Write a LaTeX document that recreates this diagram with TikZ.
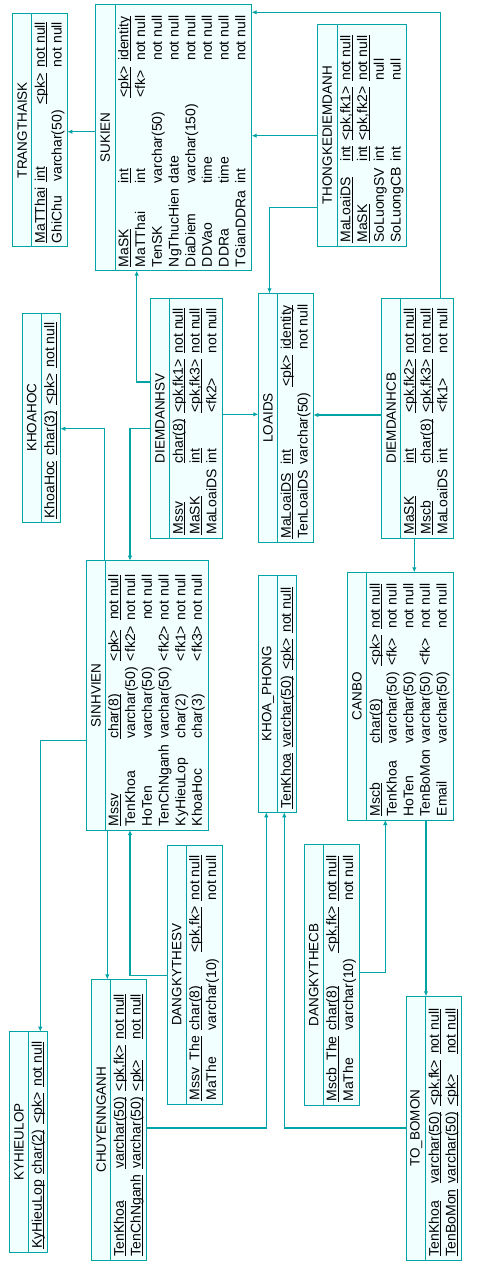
\documentclass[tikz,border=0pt]{standalone}
\usepackage{fontspec}
\setmainfont{Liberation Sans}
\usetikzlibrary{arrows.meta}
\definecolor{erline}{RGB}{0,164,164}
\definecolor{erfill}{RGB}{242,255,255}
\newcommand\kul[1]{\setbox0\hbox{#1}\rlap{\rule[-2.3pt]{\wd0}{0.9pt}}\box0}
\tikzset{
 tblbox/.style={draw=erline, fill=erfill, line width=1pt, inner sep=0pt, outer sep=0pt},
 tblline/.style={draw=erline, line width=1pt},
 ttl/.style={inner sep=0pt, font=\fontsize{13.5}{16}\selectfont},
 rowsnode/.style={inner sep=0pt, font=\fontsize{14}{16.7}\selectfont},
 ref/.style={draw=erline, line width=1.1pt, -{Latex[length=5pt,width=4.5pt]}},
}
% #1 id, #2 x0, #3 y0, #4 x1, #5 y1, #6 separator x, #7 title, #8 rows
\newcommand\ertable[8]{%
  \node[tblbox, anchor=north west, minimum width={(#4-#2)*1pt}, minimum height={(#5-#3)*1pt}] (#1) at (#2,#3) {};
  \draw[tblline] (#6,0 |- #1.north) -- (#6,0 |- #1.south);
  \node[ttl, rotate=90] (#1-t) at ({(#2+#6)/2},{(#3+#5)/2}) {#7};
  \node[rowsnode, rotate=90, anchor=north west] (#1-r) at ({#6+1.3},{#5-3.5})
    {\begin{tabular}{@{}l@{\hspace{6pt}}l@{\hspace{6pt}}l@{\hspace{6pt}}l@{}}#8\end{tabular}};
}
\begin{document}
\begin{tikzpicture}[x=1pt,y=-1pt]
\useasboundingbox (0,0) rectangle (477,1264);

\ertable{trangthaisk}{12.7}{13.3}{67.3}{246.7}{31.7}{TRANGTHAISK}{%
\kul{MaTThai} & \kul{int} & \kul{<pk>} & \kul{not null}\\
GhiChu & varchar(50) & & not null}

\ertable{sukien}{95.3}{4.3}{251.7}{270.7}{115.3}{SUKIEN}{%
\kul{MaSK} & \kul{int} & \kul{<pk>} & \kul{identity}\\
MaTThai & int & <fk> & not null\\
TenSK & varchar(50) & & not null\\
NgThucHien & date & & not null\\
DiaDiem & varchar(150) & & not null\\
DDVao & time & & not null\\
DDRa & time & & not null\\
TGianDDRa & int & & not null}

\ertable{thongke}{317.3}{24.3}{406.3}{246.3}{337.3}{THONGKEDIEMDANH}{%
\kul{MaLoaiDS} & \kul{int} & \kul{<pk,fk1>} & \kul{not null}\\
\kul{MaSK} & \kul{int} & \kul{<pk,fk2>} & \kul{not null}\\
SoLuongSV & int & & null\\
SoLuongCB & int & & null}

\ertable{khoahoc}{22.3}{313.3}{60.3}{522.3}{41.3}{KHOAHOC}{%
\kul{KhoaHoc} & \kul{char(3)} & \kul{<pk>} & \kul{not null}}

\ertable{diemdanhsv}{150.3}{298.3}{222.3}{538.3}{169.7}{DIEMDANHSV}{%
\kul{Mssv} & \kul{char(8)} & \kul{<pk,fk1>} & \kul{not null}\\
\kul{MaSK} & \kul{int} & \kul{<pk,fk3>} & \kul{not null}\\
MaLoaiDS & int & <fk2> & not null}

\ertable{loaids}{258.3}{293.3}{313.3}{542.3}{277.7}{LOAIDS}{%
\kul{MaLoaiDS} & \kul{int} & \kul{<pk>} & \kul{identity}\\
TenLoaiDS & varchar(50) & & not null}

\ertable{diemdanhcb}{381.7}{298.3}{453.3}{538.3}{400.7}{DIEMDANHCB}{%
\kul{MaSK} & \kul{int} & \kul{<pk,fk2>} & \kul{not null}\\
\kul{Mscb} & \kul{char(8)} & \kul{<pk,fk3>} & \kul{not null}\\
MaLoaiDS & int & <fk1> & not null}

\ertable{sinhvien}{86.7}{560.7}{208.7}{830}{105.3}{SINHVIEN}{%
\kul{Mssv} & \kul{char(8)} & \kul{<pk>} & \kul{not null}\\
TenKhoa & varchar(50) & <fk2> & not null\\
HoTen & varchar(50) & & not null\\
TenChNganh & varchar(50) & <fk2> & not null\\
KyHieuLop & char(2) & <fk1> & not null\\
KhoaHoc & char(3) & <fk3> & not null}

\ertable{khoaphong}{258.3}{575}{296.7}{812.3}{277.7}{KHOA\_PHONG}{%
\kul{TenKhoa} & \kul{varchar(50)} & \kul{<pk>} & \kul{not null}}

\ertable{canbo}{347.3}{572.3}{453.3}{820}{366.7}{CANBO}{%
\kul{Mscb} & \kul{char(8)} & \kul{<pk>} & \kul{not null}\\
TenKhoa & varchar(50) & <fk> & not null\\
HoTen & varchar(50) & & not null\\
TenBoMon & varchar(50) & <fk> & not null\\
Email & varchar(50) & & not null}

\ertable{kyhieulop}{9.3}{1031.7}{47.3}{1252.3}{28.7}{KYHIEULOP}{%
\kul{KyHieuLop} & \kul{char(2)} & \kul{<pk>} & \kul{not null}}

\ertable{chuyennganh}{91.7}{979.3}{146}{1260}{110.7}{CHUYENNGANH}{%
\kul{TenKhoa} & \kul{varchar(50)} & \kul{<pk,fk>} & \kul{not null}\\
\kul{TenChNganh} & \kul{varchar(50)} & \kul{<pk>} & \kul{not null}}

\ertable{dangkythesv}{167.3}{845.3}{222.3}{1104.3}{186.3}{DANGKYTHESV}{%
\kul{Mssv\_The} & \kul{char(8)} & \kul{<pk,fk>} & \kul{not null}\\
MaThe & varchar(10) & & not null}

\ertable{dangkythecb}{304.3}{844.3}{359.3}{1105.3}{323.3}{DANGKYTHECB}{%
\kul{Mscb\_The} & \kul{char(8)} & \kul{<pk,fk>} & \kul{not null}\\
MaThe & varchar(10) & & not null}

\ertable{tobomon}{406.7}{996.3}{461.3}{1260}{425.7}{TO\_BOMON}{%
\kul{TenKhoa} & \kul{varchar(50)} & \kul{<pk,fk>} & \kul{not null}\\
\kul{TenBoMon} & \kul{varchar(50)} & \kul{<pk>} & \kul{not null}}

% references (child -> parent)
\draw[ref] (sukien.west |- 0,131.7) -- (trangthaisk.east |- 0,131.7);
\draw[ref] (diemdanhsv.west |- 0,382) -| (136.7,0 |- sukien.south);
\draw[ref] (440.3,0 |- diemdanhcb.north) |- (sukien.east |- 0,12.3);
\draw[ref] (thongke.west |- 0,135.7) -- (sukien.east |- 0,135.7);
\draw[ref] (thongke.west |- 0,207.3) -| (269.5,0 |- loaids.north);
\draw[ref] (diemdanhsv.east |- 0,414.3) -- (loaids.west |- 0,414.3);
\draw[ref] (diemdanhcb.west |- 0,415) -- (loaids.east |- 0,415);
\draw[ref] (414.3,0 |- diemdanhcb.south) -- (414.3,0 |- canbo.north);
\draw[ref] (104.3,0 |- sinhvien.north) |- (khoahoc.east |- 0,428.7);
\draw[ref] (diemdanhsv.west |- 0,428.7) -| (130,0 |- sinhvien.north);
\draw[ref] (sinhvien.west |- 0,740.3) -| (40.3,0 |- kyhieulop.north);
\draw[ref] (107.3,0 |- sinhvien.south) -- (107.3,0 |- chuyennganh.north);
\draw[ref] (dangkythesv.west |- 0,975.3) -| (130,0 |- sinhvien.south);
\draw[ref] (chuyennganh.east |- 0,1128) -| (266.3,0 |- khoaphong.south);
\draw[ref] (tobomon.west |- 0,1128) -| (284.3,0 |- khoaphong.south);
\draw[ref] (dangkythecb.east |- 0,972.3) -| (385.3,0 |- canbo.south);
\draw[ref] (426,0 |- canbo.south) -- (426,0 |- tobomon.north);
\end{tikzpicture}
\end{document}
